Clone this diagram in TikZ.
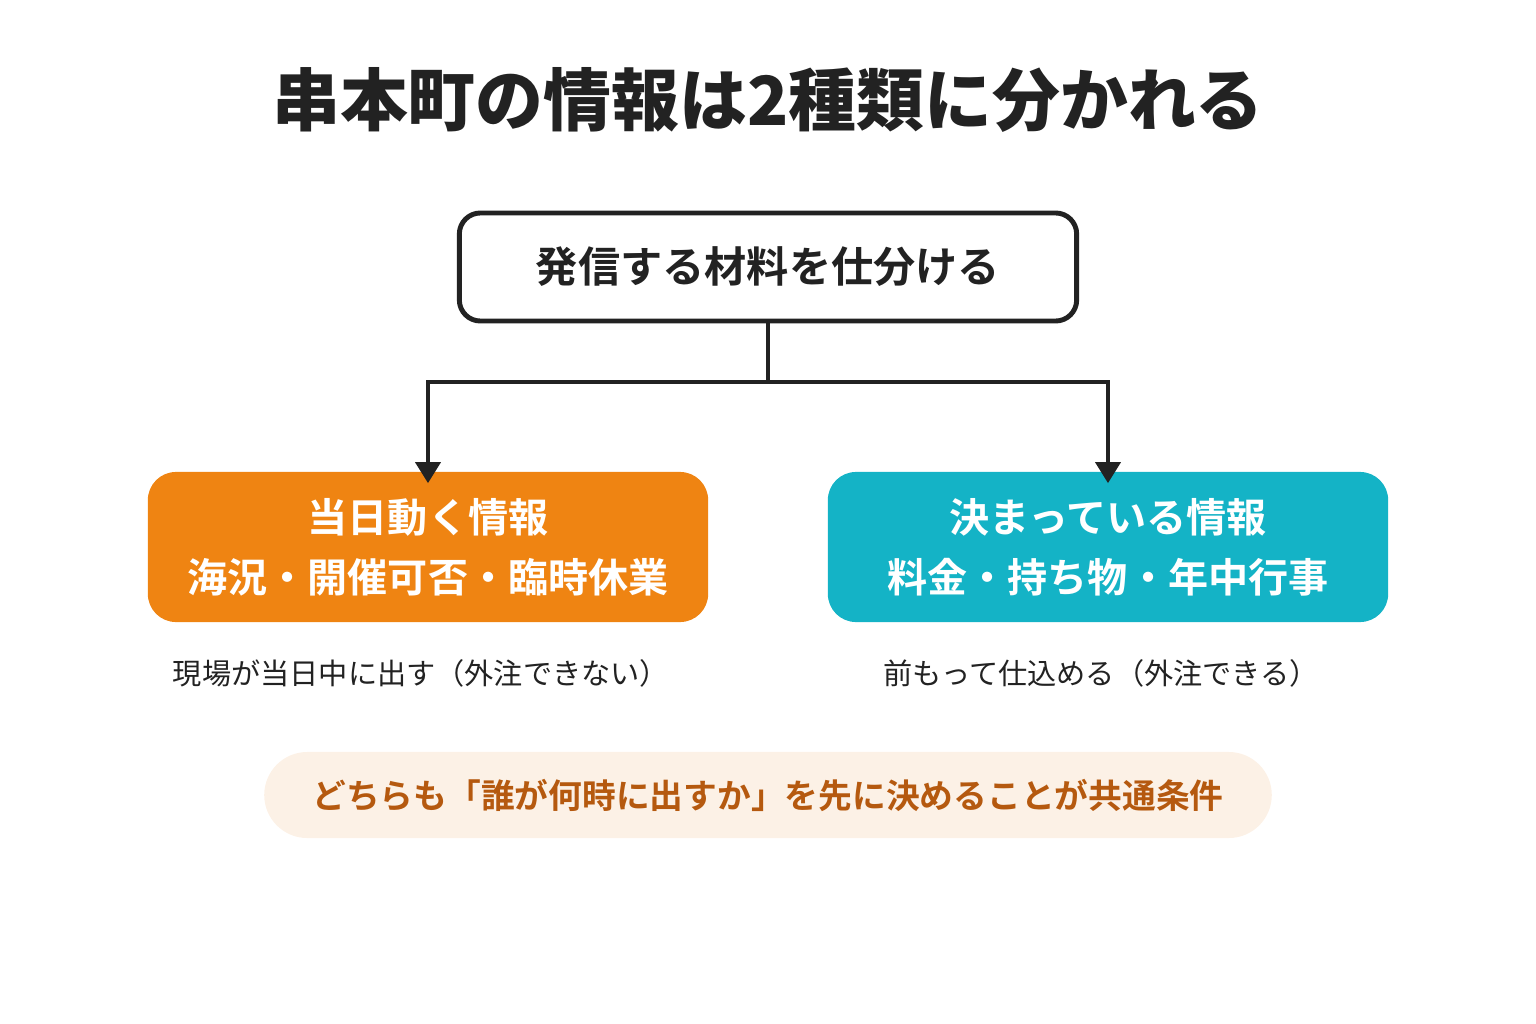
\documentclass[tikz,border=0pt]{standalone}
\usepackage{fontspec}
\setmainfont{Noto Sans CJK JP}
\newfontfamily\jpbold{Noto Sans CJK JP Bold}
\newfontfamily\jpblack{Noto Sans CJK JP Black}
\usetikzlibrary{arrows.meta,positioning}
\definecolor{inkc}{HTML}{222222}
\definecolor{orangec}{HTML}{EF8412}
\definecolor{tealc}{HTML}{14B3C6}
\definecolor{pillc}{HTML}{FCF1E6}
\definecolor{brownc}{HTML}{B5590F}
\tikzset{
  catbox/.style={rounded corners=8pt, minimum width=5.6cm, minimum height=1.5cm,
    text=white, align=center, font=\jpbold\fontsize{11.4}{17}\selectfont},
  note/.style={text=inkc, font=\fontsize{8.3}{10}\selectfont},
  link/.style={draw=inkc, line width=1.4pt},
  tip/.style={link, -{Triangle[width=7pt,length=6pt]}}
}
\begin{document}
\begin{tikzpicture}[x=0.01cm,y=-0.01cm]
  \useasboundingbox (0,0) rectangle (1536,1024);
  \node[text=inkc, font=\jpblack\fontsize{19.3}{22}\selectfont] (title) at (768,100) {串本町の情報は2種類に分かれる};

  \node[draw=inkc, line width=1.4pt, rounded corners=6pt, minimum width=6.17cm, minimum height=1.08cm,
    text=inkc, font=\jpbold\fontsize{12}{14}\selectfont] (root) at (768,267) {発信する材料を仕分ける};

  \node[catbox, fill=orangec] (live) at (428,547) {当日動く情報\\海況・開催可否・臨時休業};
  \node[catbox, fill=tealc] (fixed) at (1108,547) {決まっている情報\\料金・持ち物・年中行事};

  \coordinate (fork) at (768,382);
  \draw[link] (root.south) -- (fork);
  \draw[tip] (fork) -| ([yshift=-0.12cm]live.north);
  \draw[tip] (fork) -| ([yshift=-0.12cm]fixed.north);

  \node[note] (livenote) at (421,673) {現場が当日中に出す（外注できない）};
  \node[note] (fixednote) at (1101,673) {前もって仕込める（外注できる）};

  \node[fill=pillc, rounded corners=0.43cm, minimum width=10.07cm, minimum height=0.86cm,
    text=brownc, font=\jpbold\fontsize{9.6}{12}\selectfont] (rule) at (768,795)
    {どちらも「誰が何時に出すか」を先に決めることが共通条件};
\end{tikzpicture}
\end{document}
